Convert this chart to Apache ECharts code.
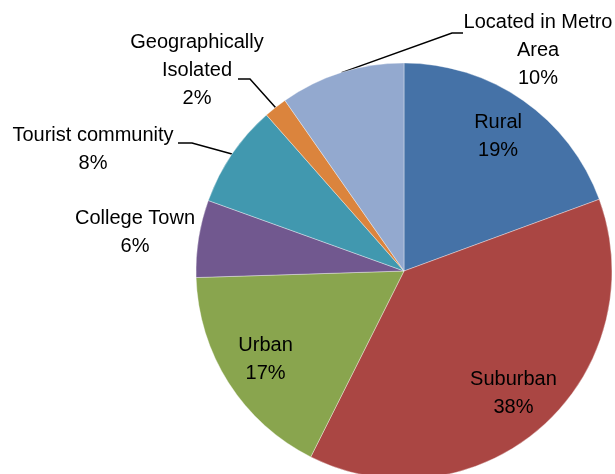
<!DOCTYPE html>
<html>
<head>
<meta charset="utf-8">
<title>Community type</title>
<script src="https://cdn.jsdelivr.net/npm/echarts@6/dist/echarts.min.js"></script>
<style>
	html, body { margin: 0; padding: 0; background: #fff; }
	#chart { width: 615px; height: 474px; }
</style>
</head>
<body>
<div id="chart"></div>
<script>
// data (share of respondents, %)
var categories = ['Rural', 'Suburban', 'Urban', 'College Town', 'Tourist community', 'Geographically Isolated', 'Located in Metro Area'];
var labelNames = ['Rural', 'Suburban', 'Urban', 'College Town', 'Tourist community', 'Geographically\nIsolated', 'Located in Metro\nArea'];
var shares = [19.4, 38.0, 17.1, 6.0, 8.0, 1.8, 9.7];
var colors = ['#4572A7', '#AA4643', '#89A54E', '#71588F', '#4198AF', '#DB843D', '#93A9CF'];

(function() {
	'use strict';
	var CX = 404, CY = 271, R = 208;

	// label boxes for the slices whose labels sit outside (centre x, centre y)
	// and the leader line bend / end points
	var outside = {
		3: { x: 135, y: 232 },
		4: { x: 93, y: 149, line: [[192, 143], [178, 143]] },
		5: { x: 197, y: 70, line: [[250, 79], [238, 79]] },
		6: { x: 538, y: 50, line: [[452, 33], [463, 33]] }
	};

	// mid angle of every slice, clockwise from 12 o'clock (radians)
	var total = 0, i;
	for (i = 0; i < shares.length; i++) total += shares[i];
	var midAngles = [], acc = 0;
	for (i = 0; i < shares.length; i++) {
		midAngles.push((acc + shares[i] / 2) / total * Math.PI * 2);
		acc += shares[i];
	}

	function pointAt(idx, r) {
		var a = midAngles[idx];
		return [CX + r * Math.sin(a), CY - r * Math.cos(a)];
	}

	var data = [];
	for (i = 0; i < categories.length; i++) {
		data.push({
			name: categories[i],
			value: shares[i],
			itemStyle: { color: colors[i] },
			labelLine: { show: !!(outside[i] && outside[i].line) }
		});
	}

	var chart = echarts.init(document.getElementById('chart'), null, { renderer: 'canvas' });
	chart.setOption({
		animation: false,
		backgroundColor: '#fff',
		series: [{
			type: 'pie',
			center: [CX, CY],
			radius: R,
			startAngle: 90,
			clockwise: true,
			percentPrecision: 0,
			avoidLabelOverlap: false,
			data: data,
			itemStyle: { borderColor: 'rgba(255,255,255,0.6)', borderWidth: 0.6 },
			label: {
				show: true,
				position: 'outside',
				color: '#000',
				fontFamily: '"Liberation Sans", Arial, sans-serif',
				fontSize: 20,
				lineHeight: 28,
				align: 'center',
				formatter: function(p) {
					return labelNames[p.dataIndex] + '\n' + p.percent + '%';
				}
			},
			labelLine: {
				show: true,
				lineStyle: { color: '#000', width: 1.5 }
			},
			labelLayout: function(p) {
				var idx = p.dataIndex;
				var o = outside[idx];
				if (!o) {
					// inside labels, about 4/5 of the radius out
					var pt = pointAt(idx, R * 0.79);
					return { x: pt[0], y: pt[1], align: 'center', verticalAlign: 'middle' };
				}
				var res = { x: o.x, y: o.y, align: 'center', verticalAlign: 'middle' };
				if (o.line) {
					res.labelLinePoints = [pointAt(idx, R), o.line[0], o.line[1]];
				}
				return res;
			}
		}]
	});
}());
</script>
</body>
</html>
